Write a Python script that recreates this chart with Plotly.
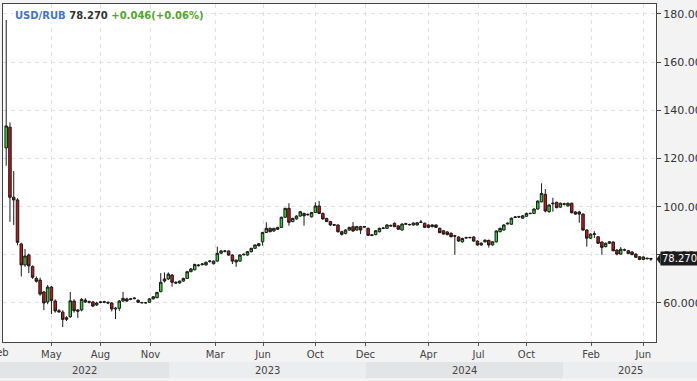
import pandas as pd
import plotly.graph_objects as go

# ---------------- data (weekly USD/RUB candles) ----------------
first_week = "2022-03-04"
opens = [
    124.4, 133.0, 103.9, 102.8, 84.5, 75.8, 79.9, 75.1, 70.2, 69.5,
    64.6, 60.4, 66.6, 60.8, 56.8, 56.2, 53.2, 54.3, 60.8, 57.1,
    57.1, 61.2, 60.3, 60.4, 59.2, 60.2, 60.3, 60.3, 60.0, 57.5,
    57.8, 60.8, 61.7, 61.5, 61.8, 61.1, 60.2, 60.1, 60.3, 61.7,
    62.2, 64.7, 70.0, 70.0, 71.6, 68.6, 68.3, 69.1, 70.2, 73.0,
    73.8, 75.8, 75.9, 75.8, 77.2, 76.3, 77.4, 80.7, 81.6, 81.6,
    79.9, 77.0, 77.4, 80.0, 79.9, 81.3, 82.7, 83.8, 85.4, 89.3,
    91.0, 89.9, 90.6, 91.4, 95.6, 99.3, 93.8, 94.9, 96.1, 97.2,
    96.6, 95.8, 97.6, 100.3, 97.2, 95.1, 93.8, 92.3, 92.4, 89.6,
    88.9, 90.3, 91.7, 90.3, 91.7, 91.5, 91.0, 88.3, 88.4, 89.6,
    91.0, 91.0, 92.2, 93.1, 92.0, 90.3, 92.7, 92.6, 92.4, 92.4,
    93.5, 93.1, 92.4, 91.7, 92.4, 91.0, 90.0, 89.5, 88.9, 87.9,
    87.4, 85.4, 87.0, 87.1, 87.4, 85.7, 84.1, 85.4, 86.0, 84.1,
    85.4, 89.6, 90.3, 92.8, 92.7, 95.5, 95.7, 95.2, 96.0, 97.1,
    97.2, 99.0, 102.0, 105.1, 97.9, 101.2, 101.8, 99.8, 101.2, 100.3,
    101.4, 97.8, 97.8, 96.9, 90.3, 86.9, 88.5, 87.5, 85.3, 83.4,
    84.8, 85.3, 82.0, 80.3, 82.1, 81.7, 81.2, 80.3, 79.2, 78.1,
    78.6, 78.5,
]
highs = [
    177.5, 135.0, 114.8, 103.5, 85.0, 82.4, 80.5, 75.6, 71.0, 70.5,
    65.0, 67.5, 67.0, 61.5, 57.5, 57.0, 54.5, 64.6, 61.5, 57.5,
    62.0, 62.0, 61.0, 60.8, 60.5, 60.8, 60.9, 60.6, 60.4, 58.3,
    61.2, 64.6, 62.2, 62.0, 62.3, 61.5, 60.5, 60.4, 62.0, 62.8,
    64.6, 72.4, 72.7, 72.7, 72.0, 69.0, 69.3, 70.5, 73.3, 74.5,
    76.3, 76.2, 76.6, 77.2, 77.8, 77.6, 83.4, 81.9, 82.0, 81.8,
    80.2, 78.0, 80.2, 80.6, 81.5, 82.9, 84.3, 84.9, 89.5, 93.5,
    91.3, 91.2, 91.6, 95.8, 99.5, 101.4, 95.4, 96.4, 98.1, 97.5,
    97.1, 97.8, 101.8, 102.4, 97.5, 95.4, 94.1, 92.8, 92.6, 90.0,
    90.6, 91.6, 93.6, 92.0, 92.0, 92.0, 91.3, 88.6, 90.3, 91.3,
    91.4, 92.7, 92.6, 93.4, 92.3, 93.0, 93.3, 92.9, 93.4, 93.5,
    94.5, 93.4, 92.6, 92.6, 92.6, 91.3, 90.3, 89.8, 89.4, 88.3,
    87.7, 87.1, 87.5, 87.5, 87.7, 86.0, 85.2, 86.4, 86.3, 85.7,
    90.2, 91.3, 92.7, 93.4, 95.5, 96.1, 96.2, 96.5, 97.5, 97.5,
    99.3, 102.6, 109.7, 107.3, 101.0, 103.7, 102.1, 101.7, 101.6, 101.7,
    101.7, 98.1, 98.3, 97.2, 90.6, 88.9, 89.8, 87.8, 85.6, 85.1,
    85.7, 85.6, 82.3, 83.2, 82.6, 82.0, 81.5, 80.6, 79.5, 79.4,
    78.8, 78.6,
]
lows = [
    117.0, 93.7, 92.4, 84.0, 71.0, 75.0, 72.4, 70.0, 68.5, 63.0,
    57.0, 59.5, 55.4, 56.0, 56.0, 50.0, 52.5, 53.8, 56.0, 53.8,
    56.5, 60.0, 59.8, 58.3, 58.8, 59.9, 59.9, 59.6, 56.5, 53.3,
    56.7, 60.5, 60.5, 61.2, 61.5, 60.1, 59.8, 59.8, 60.0, 61.5,
    62.0, 64.5, 68.5, 69.5, 66.8, 68.0, 68.0, 68.8, 70.0, 72.8,
    73.5, 75.2, 75.6, 75.5, 76.8, 76.0, 77.2, 80.3, 81.0, 79.6,
    76.2, 75.0, 77.2, 79.8, 79.6, 81.0, 82.5, 83.5, 83.8, 89.0,
    89.3, 89.6, 90.3, 91.2, 95.4, 92.1, 93.5, 94.6, 95.8, 92.1,
    96.3, 95.5, 97.4, 97.0, 94.6, 93.6, 92.0, 92.0, 89.2, 88.0,
    88.5, 90.0, 89.5, 90.0, 88.6, 91.2, 87.8, 87.8, 88.1, 89.3,
    90.7, 90.7, 91.8, 91.5, 90.3, 90.0, 92.4, 92.2, 92.1, 92.1,
    93.2, 91.1, 91.1, 91.4, 91.1, 89.0, 88.4, 88.1, 87.3, 80.0,
    85.4, 85.1, 86.7, 86.8, 85.5, 83.8, 83.8, 85.1, 83.0, 83.8,
    85.1, 89.3, 90.0, 92.6, 92.4, 95.3, 95.4, 95.0, 95.8, 96.9,
    97.0, 98.8, 101.8, 97.6, 97.5, 97.9, 99.3, 99.5, 100.5, 100.0,
    97.2, 96.6, 93.3, 90.0, 83.4, 86.6, 87.0, 84.5, 80.0, 83.1,
    84.5, 81.4, 79.8, 80.0, 81.5, 80.3, 79.8, 78.7, 77.8, 77.8,
    78.1, 77.5,
]
closes = [
    133.5, 103.9, 102.8, 85.2, 75.8, 79.5, 75.4, 70.7, 69.0, 63.7,
    60.0, 66.6, 61.0, 56.7, 56.3, 53.2, 53.9, 60.9, 56.8, 56.6,
    61.5, 60.4, 60.5, 58.7, 60.0, 60.4, 60.5, 60.0, 57.5, 57.8,
    60.8, 61.9, 60.8, 61.7, 62.0, 60.3, 60.1, 60.1, 61.7, 62.6,
    64.4, 68.6, 69.1, 72.0, 68.6, 68.3, 69.1, 70.2, 73.0, 74.1,
    76.0, 75.5, 76.2, 76.9, 77.4, 77.4, 80.6, 81.6, 81.5, 79.9,
    77.4, 77.8, 79.9, 80.2, 81.3, 82.7, 84.1, 84.6, 89.3, 91.0,
    89.6, 91.0, 91.4, 95.6, 99.3, 93.5, 95.1, 96.1, 97.9, 96.2,
    96.8, 97.6, 100.3, 97.2, 94.9, 93.8, 92.4, 92.5, 89.6, 88.5,
    90.3, 91.4, 89.9, 91.7, 90.3, 91.7, 88.1, 88.1, 90.0, 91.0,
    91.1, 92.4, 92.0, 91.7, 90.6, 92.8, 92.9, 92.5, 93.2, 93.3,
    93.6, 91.4, 91.4, 92.4, 91.4, 89.2, 88.6, 88.4, 87.5, 87.8,
    85.7, 86.8, 87.1, 87.2, 85.7, 84.1, 84.8, 86.1, 84.1, 85.4,
    89.9, 91.0, 92.4, 93.1, 95.2, 95.7, 95.8, 96.2, 97.2, 97.2,
    99.0, 102.3, 105.5, 98.2, 100.7, 101.4, 99.6, 101.4, 101.0, 101.4,
    97.5, 96.9, 96.9, 90.3, 86.9, 88.6, 88.7, 84.8, 83.1, 84.8,
    85.4, 81.7, 80.3, 82.3, 82.0, 80.6, 80.1, 79.0, 78.1, 79.1,
    78.4, 78.27,
]
dates = pd.date_range(first_week, periods=len(closes), freq="7D")

tick_dates = ["2022-02-21", "2022-05-27", "2022-08-26", "2022-11-27", "2023-03-27",
              "2023-06-24", "2023-09-29", "2023-12-31", "2024-04-26", "2024-07-28",
              "2024-10-25", "2025-02-22", "2025-05-30"]
tick_labels = ["Feb", "May", "Aug", "Nov", "Mar", "Jun", "Oct", "Dec", "Apr", "Jul",
               "Oct", "Feb", "Jun"]
years = [2022, 2023, 2024, 2025]

symbol = "USD/RUB"
last_price = "78.270"
change_text = "+0.046(+0.06%)"

# ---------------- layout geometry ----------------
W, H = 697, 381
ML, MR, MT, MB = 3, 41, 4, 39
PW, PH = W - ML - MR, H - MT - MB
x_range = [pd.Timestamp("2022-02-26 02:00"), pd.Timestamp("2025-06-22 12:00")]
y_range = [43.8, 184.15]
FONT = "DejaVu Sans"


def xpaper(t):
    t = pd.Timestamp(t)
    return (t - x_range[0]) / (x_range[1] - x_range[0])


def ypaper(v):
    return (v - y_range[0]) / (y_range[1] - y_range[0])


fig = go.Figure(go.Candlestick(
    x=dates, open=opens, high=highs, low=lows, close=closes,
    increasing=dict(line=dict(color="#1a1a1a", width=1), fillcolor="#34d234"),
    decreasing=dict(line=dict(color="#1a1a1a", width=1), fillcolor="#c8161a"),
    whiskerwidth=0, showlegend=False, hoverinfo="x+y",
))

in_range = [(d, l) for d, l in zip(tick_dates, tick_labels) if pd.Timestamp(d) >= x_range[0]]
out_range = [(d, l) for d, l in zip(tick_dates, tick_labels) if pd.Timestamp(d) < x_range[0]]

grid = dict(showgrid=True, gridcolor="#e1e1e1", gridwidth=1, griddash="4px,4px")

fig.update_layout(
    width=W, height=H,
    margin=dict(l=ML, r=MR, t=MT, b=MB, pad=0, autoexpand=False),
    paper_bgcolor="#f3f3f4", plot_bgcolor="#ffffff",
    boxgap=0.05,
    font=dict(family=FONT, size=10, color="#444"),
    xaxis=dict(
        type="date", range=x_range, rangeslider=dict(visible=False), automargin=False,
        tickmode="array", tickvals=[d for d, _ in in_range], ticktext=[l for _, l in in_range],
        ticks="outside", ticklen=3, tickcolor="#555",
        showline=True, linecolor="#444", linewidth=1, mirror=True,
        tickfont=dict(family=FONT, size=10, color="#444"),
        zeroline=False, **grid,
    ),
    yaxis=dict(
        side="right", range=y_range, tick0=0, dtick=20, tickformat=".3f", automargin=False,
        ticks="outside", ticklen=4, tickcolor="#444",
        showline=True, linecolor="#444", linewidth=1, mirror=True,
        tickfont=dict(family=FONT, size=11, color="#333"),
        zeroline=False, **grid,
    ),
)

shapes = []
annotations = []

# year bands under the axis
page_left = -ML / PW
page_right = (W - ML) / PW
band_top = -20 / PH
band_bot = -36 / PH
band_colors = ["#e3e4e6", "#ecedef"]
for k, yr in enumerate(years):
    x0 = max(page_left, xpaper(f"{yr}-01-01"))
    x1 = min(page_right, xpaper(f"{yr + 1}-01-01"))
    shapes.append(dict(type="rect", xref="paper", yref="paper", x0=x0, x1=x1,
                       y0=band_bot, y1=band_top, fillcolor=band_colors[k % 2],
                       line=dict(width=0), layer="below"))
    annotations.append(dict(xref="paper", yref="paper", x=(x0 + x1) / 2,
                            y=(band_top + band_bot) / 2, text=str(yr), showarrow=False,
                            font=dict(family=FONT, size=10, color="#444"),
                            xanchor="center", yanchor="middle"))

# tick label that falls left of the visible range (clipped by the page edge)
for d, l in out_range:
    annotations.append(dict(xref="paper", yref="paper", x=xpaper(d), y=0, yshift=-10,
                            text=l, showarrow=False, xanchor="center", yanchor="middle",
                            font=dict(family=FONT, size=10, color="#444")))

# last-price marker
lp = float(last_price)
yp = ypaper(lp)
shapes.append(dict(type="path", xref="paper", yref="paper",
                   path=f"M {1 + 0.5 / PW},{yp} L {1 + 4.5 / PW},{yp + 5.5 / PH} "
                        f"L {1 + 4.5 / PW},{yp - 5.5 / PH} Z",
                   fillcolor="#1c1c1c", line=dict(width=0)))
annotations.append(dict(xref="paper", yref="y", x=1, xshift=4, y=lp, text=last_price,
                        showarrow=False, xanchor="left", yanchor="middle",
                        bgcolor="#1c1c1c", borderpad=1,
                        font=dict(family=FONT, size=10, color="#ffffff")))

# header text
annotations.append(dict(
    xref="paper", yref="paper", x=(13 - ML) / PW, y=1 - (15 - MT) / PH,
    xanchor="left", yanchor="middle", showarrow=False, bgcolor="#ffffff", borderpad=1,
    text=(f"<b><span style='color:#4274cc'>{symbol}</span> "
          f"<span style='color:#333333'>{last_price}</span> "
          f"<span style='color:#52a32e'>{change_text}</span></b>"),
    font=dict(family=FONT, size=10),
))

fig.update_layout(shapes=shapes, annotations=annotations)
fig.write_html(
    "out.html",
    config={"displayModeBar": False},
    post_script="document.body.style.margin='0';document.body.style.overflow='hidden';",
)
